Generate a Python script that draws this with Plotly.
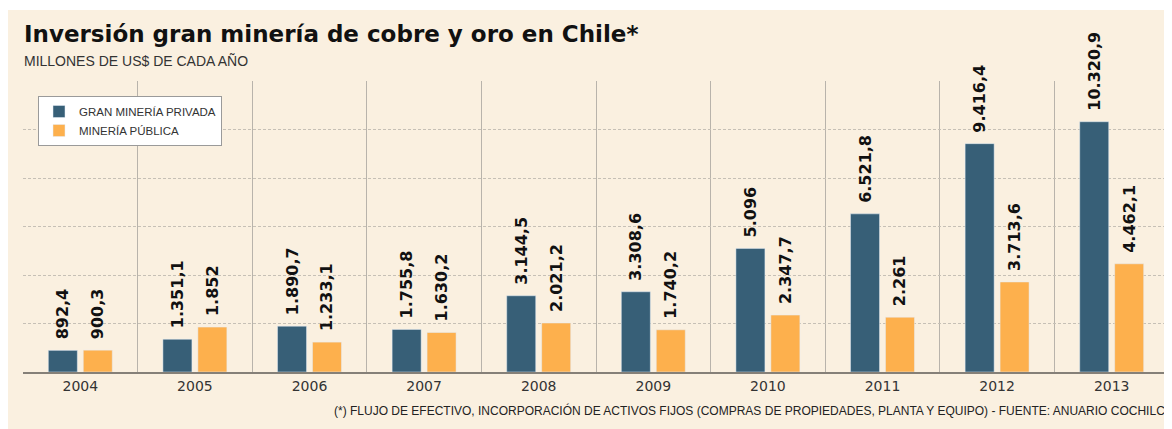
import plotly.graph_objects as go

years = ["2004", "2005", "2006", "2007", "2008", "2009", "2010", "2011", "2012", "2013"]
privada = [892.4, 1351.1, 1890.7, 1755.8, 3144.5, 3308.6, 5096.0, 6521.8, 9416.4, 10320.9]
publica = [900.3, 1852.0, 1233.1, 1630.2, 2021.2, 1740.2, 2347.7, 2261.0, 3713.6, 4462.1]
privada_lbl = ["892,4", "1.351,1", "1.890,7", "1.755,8", "3.144,5", "3.308,6", "5.096", "6.521,8", "9.416,4", "10.320,9"]
publica_lbl = ["900,3", "1.852", "1.233,1", "1.630,2", "2.021,2", "1.740,2", "2.347,7", "2.261", "3.713,6", "4.462,1"]

title = "Inversión gran minería de cobre y oro en Chile*"
subtitle = "MILLONES DE US$ DE CADA AÑO"
footnote = ("(*) FLUJO DE EFECTIVO, INCORPORACIÓN DE ACTIVOS FIJOS (COMPRAS DE PROPIEDADES, "
            "PLANTA Y EQUIPO) - FUENTE: ANUARIO COCHILCO")

BLUE = "#375F77"
ORANGE = "#FDB04D"
CREAM = "#FAF0E0"

# page body has an 8px margin; positions below are given in screen pixels
OFF = 8
W, H = 1172, 429
ML = 23 - OFF
MT = 81 - OFF
PW = 1146
BASE = 372 - OFF
MB = H - BASE
MR = W - ML - PW
PH = BASE - MT

def px_x(x):
    return (x - OFF - ML) / PW

def px_y(y):
    return (BASE - (y - OFF)) / PH

label_font = dict(family="DejaVu Sans", size=16, color="#111111", weight="bold")

fig = go.Figure()
fig.add_trace(go.Bar(
    x=years, y=privada, name="GRAN MINERÍA PRIVADA", marker_color=BLUE,
    text=privada_lbl, texttemplate="\u2002%{text}", textposition="outside", textangle=-90,
    textfont=label_font, cliponaxis=False, constraintext="none", hoverinfo="skip",
))
fig.add_trace(go.Bar(
    x=years, y=publica, name="MINERÍA PÚBLICA", marker_color=ORANGE,
    text=publica_lbl, texttemplate="\u2002%{text}", textposition="outside", textangle=-90,
    textfont=label_font, cliponaxis=False, constraintext="none", hoverinfo="skip",
))

fig.update_layout(
    width=W, height=H,
    margin=dict(l=ML, r=MR, t=MT, b=MB, pad=0),
    paper_bgcolor=CREAM, plot_bgcolor=CREAM,
    barmode="group", bargap=0.39, bargroupgap=0.17,
    showlegend=True,
    legend=dict(
        x=px_x(38), y=px_y(96), xanchor="left", yanchor="top",
        bgcolor="#FFFFFF", bordercolor="#9A9A9A", borderwidth=1,
        font=dict(family="Liberation Sans", size=11.5, color="#333333"),
        itemwidth=30, tracegroupgap=0,
    ),
    xaxis=dict(
        type="category", range=[-0.5, 9.5], tickson="boundaries",
        showgrid=True, gridcolor="#B8B3AB", gridwidth=1,
        showline=True, linecolor="#858078", linewidth=2,
        ticks="", tickfont=dict(family="DejaVu Sans", size=14, color="#333333"),
        fixedrange=True,
    ),
    yaxis=dict(
        range=[0, 12000], dtick=2000, showticklabels=False,
        showgrid=True, gridcolor="#C6C0B6", gridwidth=1, griddash="3px,2px",
        zeroline=False, showline=False, fixedrange=True,
    ),
    shapes=[
        dict(type="rect", xref="paper", yref="paper", x0=px_x(0), x1=px_x(W + 20), y0=px_y(10), y1=px_y(0),
             fillcolor="#FFFFFF", line=dict(width=0), layer="below"),
    ],
    annotations=[
        dict(text="<b>" + title + "</b>", xref="paper", yref="paper", x=px_x(22), y=px_y(34),
             xanchor="left", yanchor="middle", showarrow=False,
             font=dict(family="DejaVu Sans", size=23, color="#111111")),
        dict(text=subtitle, xref="paper", yref="paper", x=px_x(22), y=px_y(61),
             xanchor="left", yanchor="middle", showarrow=False,
             font=dict(family="Liberation Sans", size=14, color="#333333")),
        dict(text=footnote, xref="paper", yref="paper", x=px_x(1176), y=px_y(410),
             xanchor="right", yanchor="middle", showarrow=False,
             font=dict(family="Liberation Sans", size=12, color="#222222")),
    ],
)

fig.write_html("out.html")
